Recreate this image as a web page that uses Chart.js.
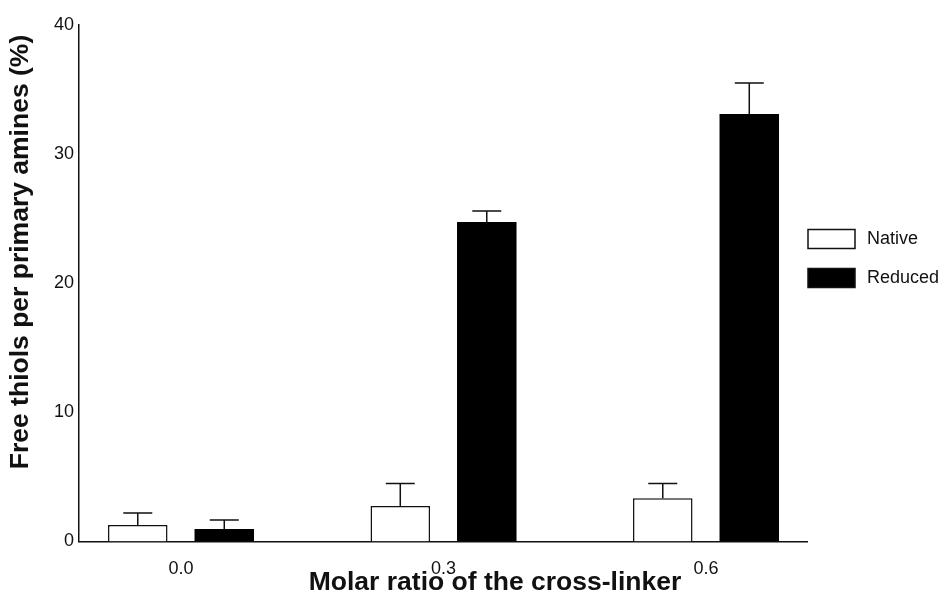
<!DOCTYPE html>
<html>
<head>
<meta charset="utf-8">
<script src="https://cdn.jsdelivr.net/npm/chart.js@4.4.0/dist/chart.umd.min.js"></script>
<style>
    html, body { margin: 0; padding: 0; background: #fff; }
    #wrap { width: 951px; height: 606px; }
</style>
</head>
<body>
<div id="wrap"><canvas id="myChart"></canvas></div>
<script>
// data
var ratios = [0.0, 0.3, 0.6];
var nativeMean = [1.27, 2.74, 3.34];
var nativeSd = [0.93, 1.76, 1.16];
var reducedMean = [0.97, 24.75, 33.1];
var reducedSd = [0.69, 0.85, 2.4];
var yTicks = [0, 10, 20, 30, 40];

var xTitle = 'Molar ratio of the cross-linker';
var yTitle = 'Free thiols per primary amines (%)';
var fontFamily = "'Liberation Sans', Arial, Helvetica, sans-serif";
var ink = '#111';

function points(means) {
    return ratios.map(function (r, i) { return { x: r, y: means[i] }; });
}

// upward error bars with a cap
var errorBars = {
    id: 'errorBars',
    afterDatasetsDraw: function (chart) {
        var ctx = chart.ctx;
        var y = chart.scales.y;
        chart.data.datasets.forEach(function (ds, di) {
            chart.getDatasetMeta(di).data.forEach(function (bar, i) {
                var top = y.getPixelForValue(ds.data[i].y + ds.errors[i]);
                ctx.save();
                ctx.strokeStyle = ink;
                ctx.lineWidth = 1.5;
                ctx.beginPath();
                ctx.moveTo(bar.x, bar.y);
                ctx.lineTo(bar.x, top);
                ctx.moveTo(bar.x - 14.5, top);
                ctx.lineTo(bar.x + 14.5, top);
                ctx.stroke();
                ctx.restore();
            });
        });
    }
};

// axis titles and the legend on the right
var decorations = {
    id: 'decorations',
    afterDraw: function (chart) {
        var ctx = chart.ctx;
        ctx.save();
        ctx.fillStyle = ink;
        ctx.textAlign = 'center';
        ctx.textBaseline = 'middle';
        ctx.font = 'bold 26.5px ' + fontFamily;
        ctx.fillText(xTitle, 495, 583);
        ctx.save();
        ctx.translate(21, 252);
        ctx.rotate(-Math.PI / 2);
        ctx.fillText(yTitle, 0, 0);
        ctx.restore();

        ctx.font = '18px ' + fontFamily;
        ctx.textAlign = 'left';
        chart.data.datasets.forEach(function (ds, i) {
            var cy = 239 + i * 39;
            ctx.fillStyle = ds.backgroundColor;
            ctx.fillRect(808, cy - 9.5, 47, 19);
            ctx.strokeStyle = ink;
            ctx.lineWidth = 1.5;
            ctx.strokeRect(808, cy - 9.5, 47, 19);
            ctx.fillStyle = ink;
            ctx.fillText(ds.label, 867, cy);
        });
        ctx.restore();
    }
};

var ctx = document.getElementById('myChart').getContext('2d');
var chart = new Chart(ctx, {
    type: 'bar',
    data: {
        datasets: [{
            label: 'Native',
            data: points(nativeMean),
            errors: nativeSd,
            backgroundColor: '#ffffff',
            borderColor: ink,
            borderWidth: 1.5
        }, {
            label: 'Reduced',
            data: points(reducedMean),
            errors: reducedSd,
            backgroundColor: '#000000',
            borderColor: '#000000',
            borderWidth: 0
        }]
    },
    options: {
        responsive: true,
        maintainAspectRatio: false,
        animation: false,
        categoryPercentage: 0.659,
        barPercentage: 0.688,
        layout: { padding: { top: 25, right: 144, left: 0, bottom: 0 } },
        plugins: {
            legend: { display: false },
            tooltip: { enabled: false }
        },
        scales: {
            x: {
                type: 'linear',
                offset: false,
                min: -0.1166,
                max: 0.7154,
                grid: { display: false, drawTicks: false, tickLength: 0 },
                border: { display: true, color: ink, width: 1.5 },
                afterBuildTicks: function (scale) {
                    scale.ticks = ratios.map(function (r) { return { value: r }; });
                },
                afterFit: function (scale) { scale.height = 64.5; },
                ticks: {
                    padding: 17,
                    color: ink,
                    font: { family: fontFamily, size: 18 },
                    callback: function (v) { return Number(v).toFixed(1); }
                }
            },
            y: {
                min: yTicks[0],
                max: yTicks[yTicks.length - 1],
                grid: { display: false, drawTicks: false, tickLength: 0 },
                border: { display: true, color: ink, width: 1.5 },
                afterBuildTicks: function (scale) {
                    scale.ticks = yTicks.map(function (v) { return { value: v }; });
                },
                afterFit: function (scale) { scale.width = 79; },
                ticks: {
                    padding: 5,
                    color: ink,
                    font: { family: fontFamily, size: 18 }
                }
            }
        }
    },
    plugins: [errorBars, decorations]
});
</script>
</body>
</html>
